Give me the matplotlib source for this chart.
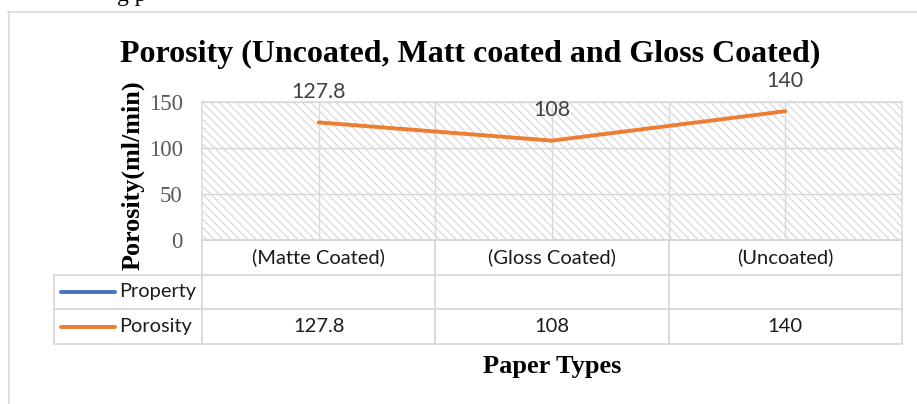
import matplotlib
matplotlib.use('Agg')
import matplotlib.pyplot as plt
from matplotlib.lines import Line2D
from matplotlib.patches import Rectangle

# data
categories = ['(Matte Coated)', '(Gloss Coated)', '(Uncoated)']
series_names = ['Property', 'Porosity']
porosity = [127.8, 108, 140]
yticks = [0, 50, 100, 150]

ORANGE = '#ED7D31'
BLUE = '#4472C4'
GRID = '#D9D9D9'
SERIF = 'Liberation Serif'
SANS = 'Lato'

W, H = 917, 404
fig = plt.figure(figsize=(W / 100, H / 100), dpi=100)

# plot area in pixel terms
px_l, px_r, px_t, px_b = 202, 902, 102, 240
ax = fig.add_axes([px_l / W, 1 - px_b / H, (px_r - px_l) / W, (px_b - px_t) / H])
ax.set_xlim(-0.5, len(categories) - 0.5)
ax.set_ylim(0, 150)

# hatched background
ax.patch.set_alpha(0)
bg = Rectangle((0, 0), 1, 1, transform=ax.transAxes, facecolor='white',
               edgecolor='#DCDCDC', hatch='\\\\\\\\', lw=0, zorder=0)
ax.add_patch(bg)

# gridlines
ax.set_yticks(yticks)
ax.set_xticks(range(len(categories)))
ax.set_xticks([i + 0.5 for i in range(len(categories) - 1)], minor=True)
ax.grid(True, which='both', color=GRID, lw=1.0, zorder=1)
ax.tick_params(axis='both', which='both', length=0)
ax.set_xticklabels([])
ax.set_yticklabels([str(t) for t in yticks], fontfamily=SERIF, fontsize=16.5,
                   color='#595959')
ax.tick_params(axis='y', pad=14)
for s in ax.spines.values():
    s.set_color(GRID)
    s.set_linewidth(1.1)

# the line
xs = list(range(len(categories)))
ax.plot(xs, porosity, color=ORANGE, lw=2.8, solid_capstyle='round', zorder=3)
for x, v in zip(xs, porosity):
    ax.annotate(f'{v:g}', (x, v), xytext=(0, 22), textcoords='offset points',
                ha='center', va='center', fontfamily=SANS, fontsize=15.4,
                color='#404040')

# data table under the plot
row_h = 104 / (px_b - px_t)
x0 = (54 - px_l) / (px_r - px_l)
cells = [[''] + categories,
         [''] + ['' for _ in categories],
         [''] + [f'{v:g}' for v in porosity]]
widths = [148] + [700 / 3] * 3
tbl = ax.table(cellText=cells, colWidths=[w / sum(widths) for w in widths],
               cellLoc='center', bbox=[x0, -row_h, 1 - x0, row_h])
tbl.auto_set_font_size(False)
for (r, c), cell in tbl.get_celld().items():
    cell.set_edgecolor(GRID)
    cell.set_linewidth(1.3)
    cell.get_text().set_fontfamily(SANS)
    cell.get_text().set_fontsize(14.5)
    cell.get_text().set_color('#1a1a1a')
    if r == 0 and c == 0:
        cell.visible_edges = ''

# legend keys inside the row-label cells
for i, (name, col) in enumerate(zip(series_names, [BLUE, ORANGE])):
    yc = -row_h * (1.5 + i) / 3
    ax.plot([(61 - px_l) / 700, (115 - px_l) / 700], [yc, yc], color=col, lw=2.8,
            solid_capstyle='round', transform=ax.transAxes, clip_on=False)
    ax.text((119 - px_l) / 700, yc, name, transform=ax.transAxes, ha='left',
            va='center', fontfamily=SANS, fontsize=14.4, color='#1a1a1a')

# titles
fig.text(470 / W, 1 - 62 / H, 'Porosity (Uncoated, Matt coated and Gloss Coated)',
         ha='center', va='baseline', fontfamily=SERIF, fontweight='bold', fontsize=23)
fig.text(133 / W, 1 - 175 / H, 'Porosity(ml/min)', rotation=90, ha='center',
         va='center', fontfamily=SERIF, fontweight='bold', fontsize=18.8)
fig.text(552 / W, 1 - 373 / H, 'Paper Types', ha='center', va='baseline',
         fontfamily=SERIF, fontweight='bold', fontsize=19)

# chart frame and the clipped line of body text above it
fig.add_artist(Line2D([8 / W, 1], [1 - 12 / H, 1 - 12 / H], color=GRID, lw=1.2))
fig.add_artist(Line2D([9 / W, 9 / W], [0, 1 - 12 / H], color=GRID, lw=1.2))
fig.text(117 / W, 1 - 1 / H, 'g p', ha='left', va='baseline', fontfamily=SERIF,
         fontsize=17)

fig.savefig('out.png', dpi=100)
